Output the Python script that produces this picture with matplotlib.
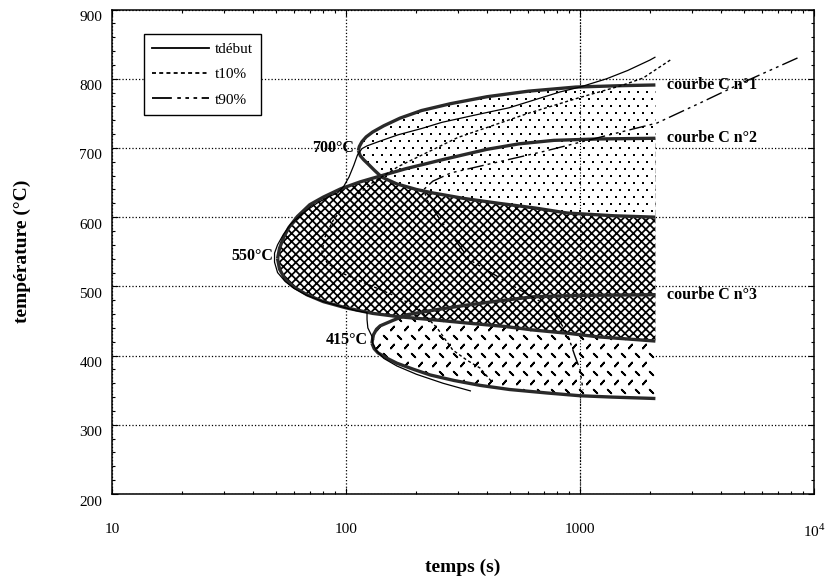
import numpy as np
import matplotlib
matplotlib.use("Agg")
import matplotlib.pyplot as plt
from matplotlib.patches import Polygon
from matplotlib.lines import Line2D
from matplotlib.ticker import LogLocator, MultipleLocator, NullFormatter
from matplotlib.transforms import ScaledTranslation

plt.rcParams['font.family'] = ['Liberation Serif', 'DejaVu Serif']
plt.rcParams['mathtext.fontset'] = 'custom'
plt.rcParams['mathtext.rm'] = 'Liberation Serif'
plt.rcParams['hatch.linewidth'] = 1.25

# DATA  (temps en s, temperature en degC)
###############################################################################
# courbe C n°1
c1_up_t = [113, 114, 117, 122, 130, 145, 170, 210, 280, 400, 600, 960, 1500, 2100]
c1_up_T = [696, 702, 709, 716, 723, 732, 743, 754, 764, 774, 782, 788, 790, 791]
c1_lo_t = [113, 115, 119, 125, 132, 142, 165, 200, 235, 320, 450, 650, 880, 1400, 2100]
c1_lo_T = [696, 689, 683, 676, 668, 658, 648, 640, 635, 627, 620, 613, 606, 602, 600]

# courbe C n°2
c2_up_t = [51, 52, 54, 57, 62, 70, 80, 95, 115, 142, 180, 258, 400, 550, 774, 1200, 2100]
c2_up_T = [540, 555, 570, 585, 601, 618, 629, 641, 651, 660, 670, 683, 698, 706, 711, 713, 714]
c2_lo_t = [51, 52, 55, 60, 68, 80, 100, 130, 170, 250, 330, 480, 630, 900, 1200, 1600, 2100]
c2_lo_T = [540, 525, 510, 499, 488, 478, 469, 461, 456, 451, 447, 442, 437, 432, 427, 424, 421]

# courbe C n°3
c3_up_t = [129, 131, 135, 140, 159, 182, 250, 329, 450, 631, 1000, 2100]
c3_up_T = [418, 430, 438, 443, 451, 459, 467, 473, 479, 485, 487, 488]
c3_lo_t = [129, 132, 137, 150, 165, 195, 229, 290, 374, 500, 722, 1000, 1384, 2100]
c3_lo_T = [418, 410, 404, 396, 389, 380, 372, 364, 357, 351, 346, 342, 340, 338]

# tdebut
deb_t = [340, 260, 200, 165, 145, 135, 130, 129, 124, 123, 123, 110, 95, 80, 68, 60,
         55, 51, 49.5, 49.5, 51, 54, 58, 65, 75, 85, 92, 98, 103, 108, 112, 117, 123,
         140, 167, 210, 257, 350, 497, 823, 1000, 1300, 1600, 1990, 2090]
deb_T = [349, 360, 373, 385, 396, 407, 418, 428, 440, 452, 462, 465, 471, 478, 487, 497,
         507, 520, 535, 548, 560, 575, 590, 605, 620, 630, 635, 645, 658, 675, 690, 699, 703,
         710, 719, 728, 737, 747, 758, 781, 788, 800, 812, 827, 831]

# t10%
t10_t = [2430, 1860, 1500, 1000, 600, 300, 167, 130, 100, 88, 81, 79, 83, 95, 120,
         160, 201, 245, 286, 330, 374, 420]
t10_T = [827, 801, 790, 773, 750, 715, 673, 650, 620, 595, 570, 550, 534, 520, 505,
         487, 470, 440, 408, 393, 382, 362]

# t90%
t90_t = [8500, 5000, 3260, 2133, 1200, 700, 400, 281, 235, 215, 222, 253, 339, 553,
         745, 880, 950, 1000, 1030]
t90_T = [830, 795, 765, 736, 715, 695, 676, 664, 652, 640, 625, 596, 538, 495,
         470, 433, 400, 380, 350]

curve_labels = ['courbe C n°1', 'courbe C n°2', 'courbe C n°3']
nose_labels = ['700°C', '550°C', '415°C']
legend_labels = ['tdébut', 't10%', 't90%']
###############################################################################


def c_region(up_t, up_T, lo_t, lo_T):
    # closed outline: upper branch from the right end to the nose, then lower branch
    xs = list(up_t[::-1]) + list(lo_t[1:])
    ys = list(up_T[::-1]) + list(lo_T[1:])
    return np.column_stack([xs, ys])


def texture(ax, patch, dx, dy, markers, size, lw, z):
    # pattern of marks laid out in pixels over the axes, clipped to a region
    w, h = ax.bbox.width, ax.bbox.height
    n = len(markers)
    for k, mk in enumerate(markers):
        px, py = [], []
        for i, y in enumerate(np.arange(dy / 2, h, dy)):
            if i % n != k:
                continue
            off = dx / 2 if i % 2 else 0
            for x in np.arange(off, w, dx):
                px.append(x / w)
                py.append(y / h)
        sc = ax.scatter(px, py, transform=ax.transAxes, marker=mk, s=size,
                        c='black', linewidths=lw, zorder=z)
        sc.set_clip_path(patch)


fig = plt.figure(figsize=(8.27, 5.81), dpi=100)
ax = fig.add_axes([0.1354, 0.1497, 0.8489, 0.8339])
ax.set_xscale('log')
ax.set_xlim(10, 1e4)
ax.set_ylim(200, 900)

# regions, drawn bottom to top
thick = dict(color='#2a2a2a', lw=2.4, solid_capstyle='butt', zorder=6)

p3 = Polygon(c_region(c3_up_t, c3_up_T, c3_lo_t, c3_lo_T), closed=True,
             facecolor='white', edgecolor='none', zorder=2)
ax.add_patch(p3)
texture(ax, p3, 14, 9, [(2, 2, -40), (2, 2, 45)], 13, 1.3, 2.1)

p2 = Polygon(c_region(c2_up_t, c2_up_T, c2_lo_t, c2_lo_T), closed=True,
             facecolor='white', edgecolor='black', lw=0, hatch='xxxx', zorder=3)
ax.add_patch(p2)

p1 = Polygon(c_region(c1_up_t, c1_up_T, c1_lo_t, c1_lo_T), closed=True,
             facecolor='white', edgecolor='none', zorder=4)
ax.add_patch(p1)
texture(ax, p1, 9, 7, ['s'], 4.5, 0, 4.1)

for ut, uT, lt, lT in [(c1_up_t, c1_up_T, c1_lo_t, c1_lo_T),
                       (c2_up_t, c2_up_T, c2_lo_t, c2_lo_T),
                       (c3_up_t, c3_up_T, c3_lo_t, c3_lo_T)]:
    ax.plot(ut, uT, **thick)
    ax.plot(lt, lT, **thick)

# transformation lines
ax.plot(deb_t, deb_T, color='black', lw=0.9, zorder=7)
ax.plot(t10_t, t10_T, color='black', lw=1.0, ls=(0, (2.2, 1.8)), zorder=7)
ax.plot(t90_t, t90_T, color='black', lw=1.0, ls=(0, (12, 3, 2, 3, 2, 3, 2, 3)), zorder=7)
ax.axvline(1000, color='black', lw=0.8, ls=':', zorder=5)

# curve names and nose temperatures
tfont = dict(fontsize=11.5, fontweight='bold', va='center', zorder=8)
for lab, T in zip(curve_labels, [c1_up_T[-1], c2_up_T[-1], c3_up_T[-1]]):
    ax.text(2350, T, lab, ha='left', **tfont)
for lab, t, T in zip(nose_labels, [c1_up_t[0], c2_up_t[0], c3_up_t[0]],
                     [c1_up_T[0], c2_up_T[0], c3_up_T[0]]):
    ax.text(t * 0.96, T + 4, lab, ha='right', **tfont)

# axes
ax.set_xticks([10, 100, 1000, 10000])
ax.set_xticklabels(['10', '100', '1000', r'10$^4$'])
ax.xaxis.set_minor_locator(LogLocator(base=10, subs=np.arange(2, 10)))
ax.xaxis.set_minor_formatter(NullFormatter())
ax.yaxis.set_major_locator(MultipleLocator(100))
ax.yaxis.set_minor_locator(MultipleLocator(20))
ax.tick_params(which='both', direction='in', top=True, right=True, width=0.8)
ax.tick_params(which='major', length=4)
ax.tick_params(which='minor', length=2.5)
ax.tick_params(axis='x', which='major', pad=21, labelsize=11)
ax.tick_params(axis='y', which='major', pad=7, labelsize=11)
for lab in ax.get_yticklabels():
    lab.set_transform(lab.get_transform() + ScaledTranslation(0, -0.065, fig.dpi_scale_trans))
for s in ax.spines.values():
    s.set_linewidth(1.1)

ax.grid(True, which='major', ls=':', color='black', lw=0.9)
ax.set_axisbelow(True)

ax.text(0.5, -0.151, 'temps (s)', transform=ax.transAxes, ha='center', va='center',
        fontsize=14, fontweight='bold')
ax.text(-0.127, 0.5, 'température (°C)', transform=ax.transAxes, ha='center', va='center',
        rotation=90, fontsize=14, fontweight='bold')

handles = [Line2D([], [], color='black', lw=1.3),
           Line2D([], [], color='black', lw=1.3, ls=(0, (2.2, 1.8))),
           Line2D([], [], color='black', lw=1.3, ls=(0, (11, 3, 2, 2.5, 2, 2.5, 2, 2.5)))]
leg = ax.legend(handles, legend_labels, loc='upper left', bbox_to_anchor=(0.0456, 0.949),
                frameon=True, fancybox=False, edgecolor='black', framealpha=1,
                handlelength=3.7, handletextpad=0.4, labelspacing=0.75, borderpad=0.55,
                borderaxespad=0, fontsize=11)
leg.get_frame().set_linewidth(1.0)
leg.set_zorder(9)

fig.savefig('out.png', dpi=100)
